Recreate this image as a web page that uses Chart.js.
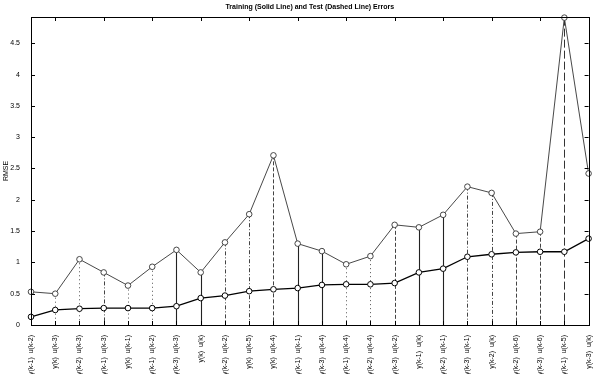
<!DOCTYPE html>
<html><head><meta charset="utf-8">
<script src="https://cdn.jsdelivr.net/npm/chart.js@4.4.0/dist/chart.umd.min.js"></script>
<style>html,body{margin:0;padding:0;background:#fff;}#wrap{width:599px;height:374px;}</style>
</head><body><div id="wrap"><canvas id="c" width="599" height="374"></canvas></div>
<script>
const categories = [
  "y(k-1)  u(k-2)", "y(k)  u(k-3)", "y(k-2)  u(k-3)", "y(k-1)  u(k-3)", "y(k)  u(k-1)", "y(k-1)  u(k-2)",
  "y(k-3)  u(k-3)", "y(k)  u(k)", "y(k-2)  u(k-2)", "y(k)  u(k-5)", "y(k)  u(k-4)", "y(k-1)  u(k-1)",
  "y(k-3)  u(k-4)", "y(k-1)  u(k-4)", "y(k-2)  u(k-4)", "y(k-3)  u(k-2)", "y(k-1)  u(k)", "y(k-2)  u(k-1)",
  "y(k-3)  u(k-1)", "y(k-2)  u(k)", "y(k-2)  u(k-6)", "y(k-3)  u(k-6)", "y(k-1)  u(k-5)", "y(k-3)  u(k)"
];
const trainingRMSE = [0.13, 0.24, 0.26, 0.27, 0.27, 0.27, 0.30, 0.43, 0.47, 0.54, 0.57, 0.59,
                      0.64, 0.65, 0.65, 0.67, 0.84, 0.90, 1.09, 1.13, 1.16, 1.17, 1.17, 1.38];
const testRMSE = [0.53, 0.50, 1.05, 0.84, 0.63, 0.93, 1.20, 0.84, 1.32, 1.77, 2.71, 1.30,
                  1.18, 0.97, 1.10, 1.60, 1.56, 1.76, 2.21, 2.11, 1.46, 1.49, 4.91, 2.42];
const yTicks = [0, 0.5, 1, 1.5, 2, 2.5, 3, 3.5, 4, 4.5];
const yMax = 4.92;
const dropStyles = ["dot","dot","dot","dashdot","dot","dot","solid","solid","dashdot","dashdot","dash","solid",
                    "solid","dot","dot","dash","solid","solid","dashdot","dashdot","dash","dash","longdash","dot"];

const styleMap = {
  solid:    {dash: [], color: "#222", width: 1.1},
  dot:      {dash: [1, 3], color: "#555", width: 1},
  dashdot:  {dash: [4, 2, 1, 2], color: "#444", width: 1},
  dash:     {dash: [4, 2], color: "#444", width: 1},
  longdash: {dash: [8, 3], color: "#333", width: 1}
};

const framePlugin = {
  id: "frame",
  beforeDatasetsDraw(chart) {
    const {ctx, scales: {x, y}} = chart;
    ctx.save();
    testRMSE.forEach((v, i) => {
      const st = styleMap[dropStyles[i]];
      const px = Math.round(x.getPixelForValue(i)) + 0.5;
      ctx.setLineDash(st.dash);
      ctx.strokeStyle = st.color;
      ctx.lineWidth = st.width;
      ctx.beginPath();
      ctx.moveTo(px, y.getPixelForValue(v));
      ctx.lineTo(px, y.getPixelForValue(0));
      ctx.stroke();
    });
    ctx.restore();
  },
  afterDraw(chart) {
    const {ctx, chartArea: a, scales: {x, y}} = chart;
    ctx.save();
    ctx.strokeStyle = "#000";
    ctx.lineWidth = 1;
    ctx.setLineDash([]);
    ctx.strokeRect(Math.round(a.left) + 0.5, Math.round(a.top) + 0.5,
                   Math.round(a.right - a.left), Math.round(a.bottom - a.top));
    ctx.beginPath();
    yTicks.forEach(t => {
      const py = Math.round(y.getPixelForValue(t)) + 0.5;
      ctx.moveTo(a.left, py); ctx.lineTo(a.left + 4, py);
      ctx.moveTo(a.right, py); ctx.lineTo(a.right - 4, py);
    });
    categories.forEach((c, i) => {
      const px = Math.round(x.getPixelForValue(i)) + 0.5;
      ctx.moveTo(px, a.bottom); ctx.lineTo(px, a.bottom - 4);
      if (i % 2 === 1) { ctx.moveTo(px, a.top); ctx.lineTo(px, a.top + 4); }
    });
    ctx.stroke();
    ctx.restore();
  }
};

const FONT = "'Liberation Sans', Arial, sans-serif";

new Chart(document.getElementById("c"), {
  type: "line",
  data: {
    labels: categories,
    datasets: [
      {
        label: "Training",
        data: trainingRMSE,
        borderColor: "#000",
        borderWidth: 1.3,
        pointRadius: 2.8,
        pointBorderWidth: 1,
        pointBackgroundColor: "#fff",
        pointBorderColor: "#000",
        tension: 0,
        clip: false
      },
      {
        label: "Test",
        data: testRMSE,
        borderColor: "#333",
        borderWidth: 0.9,
        pointRadius: 2.8,
        pointBorderWidth: 0.9,
        pointBackgroundColor: "#fff",
        pointBorderColor: "#333",
        tension: 0,
        clip: false
      }
    ]
  },
  options: {
    responsive: false,
    animation: false,
    devicePixelRatio: 1,
    layout: {padding: {left: 0, right: 3, top: 0, bottom: 0}},
    plugins: {
      legend: {display: false},
      tooltip: {enabled: false},
      title: {
        display: true,
        text: "Training (Solid Line) and Test (Dashed Line) Errors",
        fullSize: false,
        color: "#000",
        font: {family: FONT, size: 7},
        padding: {top: 3, bottom: 5.6}
      }
    },
    scales: {
      x: {
        type: "category",
        offset: false,
        grid: {display: false},
        border: {display: false},
        ticks: {
          autoSkip: false, maxRotation: 90, minRotation: 90,
          color: "#000", font: {family: FONT, size: 7}, padding: 2
        },
        afterFit(s) { s.height = 49; }
      },
      y: {
        min: 0,
        max: yMax,
        grid: {display: false},
        border: {display: false},
        afterBuildTicks(s) { s.ticks = yTicks.map(v => ({value: v})); },
        ticks: {
          color: "#000", font: {family: FONT, size: 7}, padding: 3,
          callback: v => String(v)
        },
        title: {display: true, text: "RMSE", color: "#000", font: {family: FONT, size: 7}, padding: {top: 2, bottom: 0}},
        afterFit(s) { s.width = 31; }
      }
    }
  },
  plugins: [framePlugin]
});
</script>
</body></html>
